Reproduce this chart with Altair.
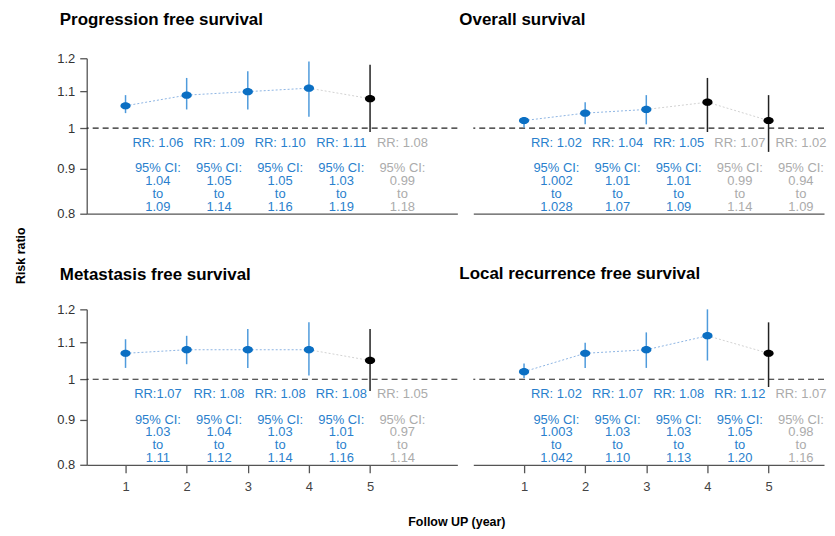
import altair as alt
import pandas as pd

# ---------------- data ----------------
years = [1, 2, 3, 4, 5]
y_ticks = [0.8, 0.9, 1.0, 1.1, 1.2]

panel_titles = [
    "Progression free survival",
    "Overall survival",
    "Metastasis free survival",
    "Local recurrence free survival",
]

pfs_rr = [1.06, 1.09, 1.10, 1.11, 1.08]
pfs_lo = ["1.04", "1.05", "1.05", "1.03", "0.99"]
pfs_hi = ["1.09", "1.14", "1.16", "1.19", "1.18"]
pfs_labels = ["RR: 1.06", "RR: 1.09", "RR: 1.10", "RR: 1.11", "RR: 1.08"]

os_rr = [1.02, 1.04, 1.05, 1.07, 1.02]
os_lo = ["1.002", "1.01", "1.01", "0.99", "0.94"]
os_hi = ["1.028", "1.07", "1.09", "1.14", "1.09"]
os_labels = ["RR: 1.02", "RR: 1.04", "RR: 1.05", "RR: 1.07", "RR: 1.02"]

mfs_rr = [1.07, 1.08, 1.08, 1.08, 1.05]
mfs_lo = ["1.03", "1.04", "1.03", "1.01", "0.97"]
mfs_hi = ["1.11", "1.12", "1.14", "1.16", "1.14"]
mfs_labels = ["RR:1.07", "RR: 1.08", "RR: 1.08", "RR: 1.08", "RR: 1.05"]

lrfs_rr = [1.02, 1.07, 1.08, 1.12, 1.07]
lrfs_lo = ["1.003", "1.03", "1.03", "1.05", "0.98"]
lrfs_hi = ["1.042", "1.10", "1.13", "1.20", "1.16"]
lrfs_labels = ["RR: 1.02", "RR: 1.07", "RR: 1.08", "RR: 1.12", "RR: 1.07"]

# ---------------- styles ----------------
BLUE_PT = "#0b6fc3"
BLUE_BAR = "#4f9bdc"
BLUE_TXT = "#2a7fcd"
BLUE_LINE = "#8eb5e3"
GREY_TXT = "#ababab"
GREY_LINE = "#d2d2d2"
DARK_PT = "#000000"
DARK_BAR = "#222222"
AXIS_COL = "#555555"
ELLIPSE = "M-1,0A1,0.72,0,1,1,1,0A1,0.72,0,1,1,-1,0Z"


def make_panel(title, rr, lo, hi, labels, left, bottom, first, title_offset):
    lo_v = [float(v) for v in lo]
    hi_v = [float(v) for v in hi]
    sig = [v > 1 for v in lo_v]
    df = pd.DataFrame({
        "year": years, "rr": rr, "lo": lo_v, "hi": hi_v, "sig": sig,
        "ref": [1.0] * len(years),
        "rr_label": labels,
        "ci_label": [f"95% CI:\n{a}\nto\n{b}" for a, b in zip(lo, hi)],
    })
    seg = pd.DataFrame({
        "x": years[:-1], "x2": years[1:],
        "y": rr[:-1], "y2": rr[1:], "sig": sig[1:],
    })
    ref = pd.DataFrame({"ref": [1.0]})

    if left:
        xscale = alt.Scale(domain=[0.365, 6.428], nice=False, zero=False)
        width = 372
    else:
        xscale = alt.Scale(domain=[0.17, 5.907], nice=False, zero=False)
        width = 352
    yscale = alt.Scale(type="log", domain=[0.8, 1.2], nice=False)

    if bottom:
        xkw = dict(values=years, tickSize=8, labelPadding=8, labelFontSize=13,
                   labelColor="#444444", tickColor=AXIS_COL, tickWidth=1.3)
        if left:
            xkw.update(title="Follow UP (year)", titleX=371, titleY=57,
                       titleBaseline="middle", titleAlign="center",
                       titleFontSize=12.5, titleFontWeight="bold", titleColor="#000000")
        else:
            xkw.update(title=None)
        xaxis = alt.Axis(grid=False, domainColor=AXIS_COL, domainWidth=1.3, **xkw)
    else:
        xaxis = alt.Axis(grid=False, ticks=False, labels=False, domainColor=AXIS_COL,
                         domainWidth=1.3, title=None)

    if left:
        ykw = dict(values=y_ticks, format="~g", tickSize=7, labelPadding=5,
                   labelFontSize=13, labelColor="#333333", tickColor=AXIS_COL,
                   tickWidth=1.3, grid=False, domainColor=AXIS_COL, domainWidth=1.3)
        if first:
            ykw.update(title="Risk ratio", titleX=-66.5, titleY=197.7,
                       titleBaseline="middle", titleAlign="center", titleAngle=270,
                       titleFontSize=12.5, titleFontWeight="bold", titleColor="#000000")
        else:
            ykw.update(title=None)
        yaxis = alt.Axis(**ykw)
    else:
        yaxis = None

    def X(f):
        return alt.X(f"{f}:Q", scale=xscale, axis=xaxis)

    def Y(f):
        return alt.Y(f"{f}:Q", scale=yscale, axis=yaxis)

    dash = alt.Chart(ref).mark_rule(strokeDash=[6, 4], color="#222222", strokeWidth=1.1).encode(
        y=Y("ref"))
    segs = alt.Chart(seg).mark_rule(strokeDash=[2, 2], strokeWidth=1).encode(
        x=X("x"), x2="x2:Q", y=Y("y"), y2="y2:Q",
        color=alt.condition("datum.sig", alt.value(BLUE_LINE), alt.value(GREY_LINE)))
    bars = alt.Chart(df).mark_rule(strokeWidth=1.5).encode(
        x=X("year"), y=Y("lo"), y2="hi:Q",
        color=alt.condition("datum.sig", alt.value(BLUE_BAR), alt.value(DARK_BAR)))
    pts = alt.Chart(df).mark_point(filled=True, size=105, shape=ELLIPSE, opacity=1).encode(
        x=X("year"), y=Y("rr"),
        color=alt.condition("datum.sig", alt.value(BLUE_PT), alt.value(DARK_PT)))
    rr_txt = alt.Chart(df).mark_text(dx=32.5, dy=14.5, fontSize=13, baseline="middle",
                                     align="center").encode(
        x=X("year"), y=Y("ref"), text="rr_label:N",
        color=alt.condition("datum.sig", alt.value(BLUE_TXT), alt.value(GREY_TXT)))
    ci_txt = alt.Chart(df).mark_text(dx=32.5, dy=40.5, fontSize=13, baseline="middle",
                                     align="center", lineBreak="\n", lineHeight=12.8).encode(
        x=X("year"), y=Y("ref"), text="ci_label:N",
        color=alt.condition("datum.sig", alt.value(BLUE_TXT), alt.value(GREY_TXT)))

    return alt.layer(dash, segs, bars, pts, rr_txt, ci_txt).properties(
        width=width, height=156,
        title=alt.TitleParams(text=title, anchor="start", frame="group", fontSize=17,
                              fontWeight="bold", color="#000000", baseline="alphabetic",
                              offset=title_offset,
                              dx=(-27 if left else -14)),
    )


p1 = make_panel(panel_titles[0], pfs_rr, pfs_lo, pfs_hi, pfs_labels, True, False, True, 10.5)
p2 = make_panel(panel_titles[1], os_rr, os_lo, os_hi, os_labels, False, False, False, 16.5)
p3 = make_panel(panel_titles[2], mfs_rr, mfs_lo, mfs_hi, mfs_labels, True, True, False, 6.2)
p4 = make_panel(panel_titles[3], lrfs_rr, lrfs_lo, lrfs_hi, lrfs_labels, False, True, False, 12.5)

chart = alt.concat(
    p1, p2, p3, p4, columns=2, spacing={"row": 96, "column": 16}, bounds="flush"
).properties(
    padding={"left": 6, "top": 1.5, "right": 0, "bottom": 0}
).configure(
    font="Liberation Sans"
).configure_view(strokeWidth=0)

chart.save("out.html", embed_options={"renderer": "svg", "actions": False})
